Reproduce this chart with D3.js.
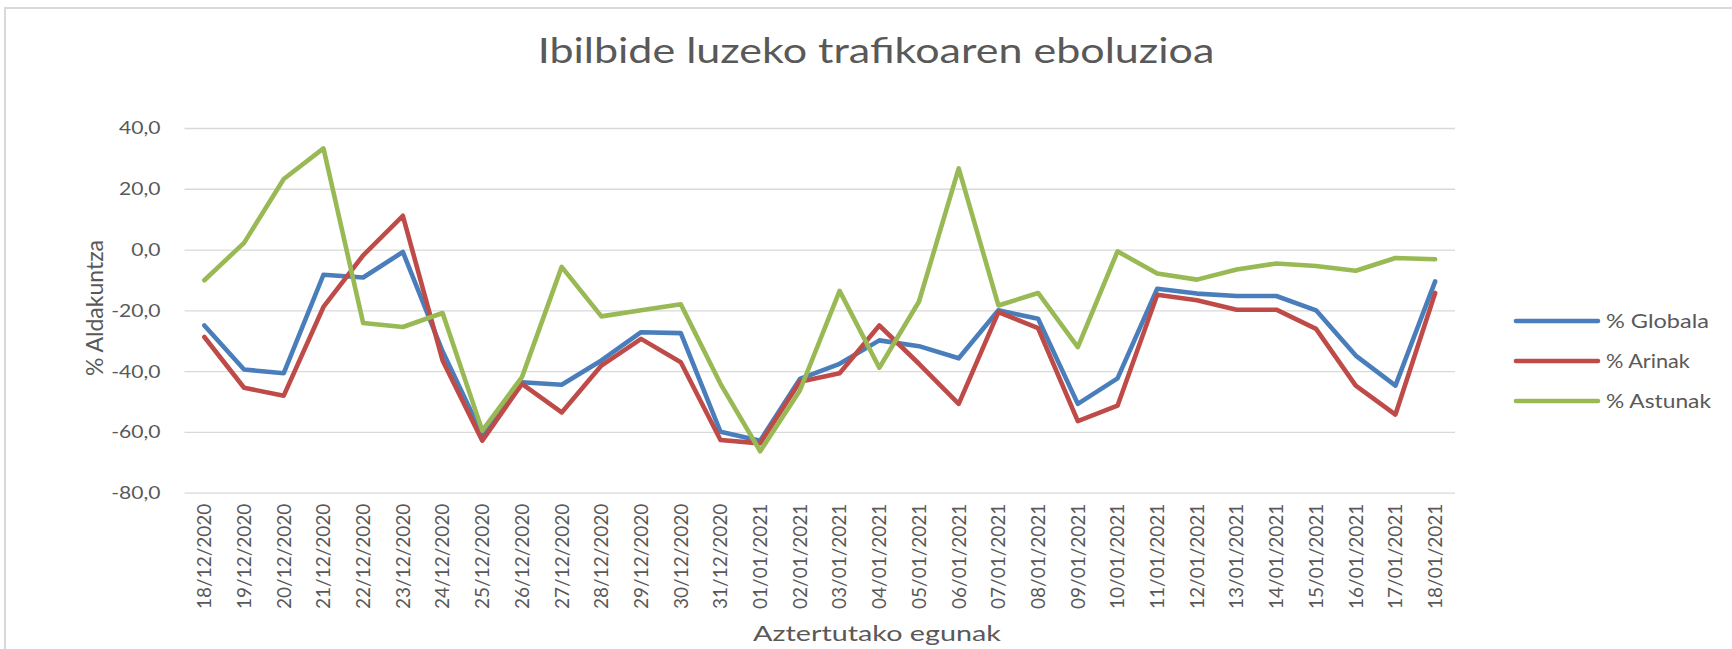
<!DOCTYPE html>
<html>
<head>
<meta charset="utf-8">
<script src="https://cdn.jsdelivr.net/npm/d3@7"></script>
<style>
  html, body { margin: 0; padding: 0; background: #fff; }
  svg { display: block; font-family: Lato, "Open Sans", sans-serif; }
</style>
</head>
<body>
<svg id="chart" width="1732" height="649"></svg>
<script>
const categories = ["18/12/2020","19/12/2020","20/12/2020","21/12/2020","22/12/2020","23/12/2020","24/12/2020","25/12/2020","26/12/2020","27/12/2020","28/12/2020","29/12/2020","30/12/2020","31/12/2020","01/01/2021","02/01/2021","03/01/2021","04/01/2021","05/01/2021","06/01/2021","07/01/2021","08/01/2021","09/01/2021","10/01/2021","11/01/2021","12/01/2021","13/01/2021","14/01/2021","15/01/2021","16/01/2021","17/01/2021","18/01/2021"];
const globala = [-25.0,-39.5,-40.7,-8.3,-9.2,-0.8,-33.5,-61.0,-43.7,-44.5,-36.5,-27.2,-27.5,-60.0,-62.9,-42.6,-37.6,-29.9,-31.8,-35.8,-20.0,-22.8,-50.8,-42.4,-12.9,-14.5,-15.3,-15.3,-20.0,-34.9,-44.8,-10.5];
const arinak  = [-28.8,-45.5,-48.1,-18.9,-1.9,11.1,-36.5,-62.9,-44.2,-53.6,-38.2,-29.4,-37.1,-62.7,-63.8,-43.5,-40.7,-25.0,-37.6,-50.8,-20.6,-25.9,-56.5,-51.4,-14.9,-16.7,-19.8,-19.8,-26.1,-44.8,-54.3,-14.3];
const astunak = [-10.1,2.2,23.2,33.3,-24.2,-25.5,-20.9,-59.6,-42.0,-5.7,-22.0,-20.0,-18.0,-44.2,-66.4,-46.4,-13.6,-38.9,-17.1,26.7,-18.4,-14.3,-32.1,-0.6,-7.9,-9.9,-6.6,-4.6,-5.4,-7.0,-2.8,-3.2];
const seriesNames = ["% Globala","% Arinak","% Astunak"];
const yTicks = [40,20,0,-20,-40,-60,-80];
const yTickLabels = ["40,0","20,0","0,0","-20,0","-40,0","-60,0","-80,0"];
const titleText = "Ibilbide luzeko trafikoaren eboluzioa";
const yTitle = "% Aldakuntza";
const xTitle = "Aztertutako egunak";
</script>
<script>
const colors = ["#4A7EBB", "#BE4B48", "#98B954"];
const textColor = "#595959";
const W = 1732, H = 649;
const plot = { left: 184.5, right: 1455, top: 128, bottom: 492.6 };

const svg = d3.select("#chart");
svg.append("rect").attr("width", W).attr("height", H).attr("fill", "#fff");
// outer chart frame
svg.append("rect").attr("x", 5).attr("y", 8).attr("width", W + 20).attr("height", H + 20)
  .attr("fill", "none").attr("stroke", "#D9D9D9").attr("stroke-width", 2);

const x = d3.scaleBand().domain(categories).range([plot.left, plot.right]);
const cx = d => x(d) + x.bandwidth() / 2;
const y = d3.scaleLinear().domain([-80, 40]).range([plot.bottom, plot.top]);

function stretch(sel, targetW, anchorX) {
  const w = sel.node().getComputedTextLength();
  if (w > 0) {
    const s = targetW / w;
    sel.attr("transform", `translate(${anchorX},0) scale(${s},1) translate(${-anchorX},0)`);
  }
}

// grid lines + y labels
const yAxis = d3.axisLeft(y).tickValues(yTicks).tickSize(-(plot.right - plot.left))
  .tickFormat((d, i) => yTickLabels[i]);
const gy = svg.append("g").attr("transform", `translate(${plot.left},0)`).call(yAxis);
gy.select(".domain").remove();
gy.selectAll(".tick line").attr("stroke", "#D9D9D9").attr("stroke-width", 1.3);
gy.selectAll(".tick text").attr("fill", textColor).attr("font-size", 16.5)
  .attr("x", -24).attr("dy", "0.36em").attr("text-anchor", "end")
  .attr("font-family", "Lato")
  .attr("transform", "translate(-24,0) scale(1.28,1) translate(24,0)");

// x axis labels
const xAxis = d3.axisBottom(x).tickSize(0);
const gx = svg.append("g").attr("transform", `translate(0,${plot.bottom})`).call(xAxis);
gx.select(".domain").remove();
gx.selectAll(".tick text").attr("fill", textColor).attr("font-size", 19).attr("font-family", "Lato")
  .attr("text-anchor", "end").attr("transform", "rotate(-90)")
  .attr("x", -11).attr("y", 0).attr("dy", "0.36em");

// lines
const allSeries = [globala, arinak, astunak];
const line = d3.line().x((d, i) => cx(categories[i])).y(d => y(d));
allSeries.forEach((vals, k) => {
  svg.append("path").datum(vals).attr("d", line).attr("fill", "none")
    .attr("stroke", colors[k]).attr("stroke-width", 4.6)
    .attr("stroke-linejoin", "round").attr("stroke-linecap", "round");
});

// title
const tt = svg.append("text").attr("x", 876).attr("y", 63).attr("text-anchor", "middle")
  .attr("font-size", 34).attr("font-family", "Lato").attr("fill", textColor).text(titleText);
stretch(tt, 677, 876);

// axis titles
svg.append("text").attr("transform", "translate(95,308) rotate(-90)").attr("text-anchor", "middle")
  .attr("dy", "0.36em").attr("font-size", 23).attr("font-family", "Lato").attr("fill", textColor).text(yTitle);
const xt = svg.append("text").attr("x", 877).attr("y", 641).attr("text-anchor", "middle")
  .attr("font-size", 22).attr("font-family", "Lato").attr("fill", textColor).text(xTitle);
stretch(xt, 248, 877);

// legend
const legendRows = [321, 361, 401];
const legendW = [103, 84, 105];
seriesNames.forEach((name, k) => {
  const ly = legendRows[k];
  svg.append("line").attr("x1", 1516).attr("x2", 1598).attr("y1", ly).attr("y2", ly)
    .attr("stroke", colors[k]).attr("stroke-width", 4.6).attr("stroke-linecap", "round");
  const t = svg.append("text").attr("x", 1606).attr("y", ly).attr("dy", "0.36em")
    .attr("font-size", 18.5).attr("font-family", "Lato").attr("fill", textColor).text(name);
  stretch(t, legendW[k], 1606);
});
</script>
</body>
</html>
